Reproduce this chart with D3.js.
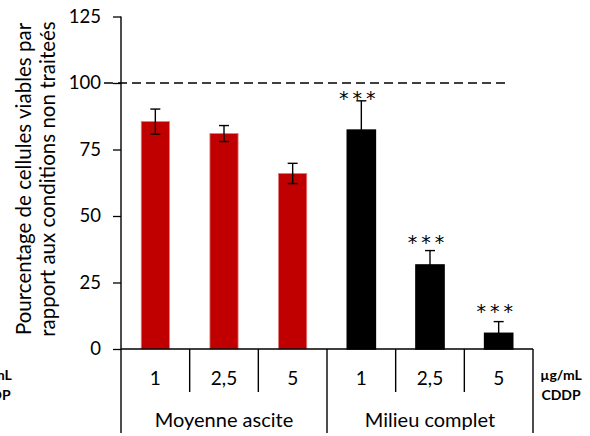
<!DOCTYPE html>
<html>
<head>
<meta charset="utf-8">
<script src="https://cdn.jsdelivr.net/npm/d3@7"></script>
<style>
  html, body { margin: 0; padding: 0; background: #fff; }
  svg { display: block; }
  text { font-family: Lato, "Open Sans", sans-serif; fill: #000; }
  text.sig { font-family: "DejaVu Sans", sans-serif; }
</style>
</head>
<body>
<svg id="chart" width="590" height="436"></svg>
<script>
// ---- data ----
const doses = ["1", "2,5", "5", "1", "2,5", "5"];
const groups = ["Moyenne ascite", "Milieu complet"];
const groupOfBar = [0, 0, 0, 1, 1, 1];
const viability = [85.5, 81.0, 66.0, 82.3, 31.6, 5.9];
const errorSD = [4.7, 3.0, 3.8, 11.0, 5.4, 4.4];
const significance = ["", "", "", "***", "***", "***"];
const significanceLevel = [null, null, null, 96, 42, 16];
const yTicks = [0, 25, 50, 75, 100, 125];
const referenceLevel = 100;
const groupColors = ["#C00000", "#000000"];
const yTitleLines = ["Pourcentage de cellules viables par", "rapport aux conditions non traiteés"];
const unitLines = ["µg/mL", "CDDP"];

// ---- layout ----
const svg = d3.select("#chart");
const pLeft = 121, pRight = 533, pTop = 16.5, pBottom = 349;

const y = d3.scaleLinear().domain([0, 125]).range([pBottom, pTop]);
const x = d3.scaleBand().domain(d3.range(doses.length)).range([pLeft, pRight])
  .paddingInner(0.59).paddingOuter(0.295);
const step = x.step();
const cx = i => x(i) + x.bandwidth() / 2;

// reference dashed line
svg.append("line")
  .attr("x1", 104).attr("x2", 505)
  .attr("y1", y(referenceLevel)).attr("y2", y(referenceLevel))
  .attr("stroke", "#000").attr("stroke-width", 1.3)
  .attr("stroke-dasharray", "9,5");

// bars
svg.selectAll("rect.bar").data(viability).enter().append("rect")
  .attr("class", "bar")
  .attr("x", (d, i) => x(i))
  .attr("width", x.bandwidth())
  .attr("y", d => y(d))
  .attr("height", d => pBottom - y(d))
  .attr("fill", (d, i) => groupColors[groupOfBar[i]])
  .attr("stroke", (d, i) => groupOfBar[i] === 0 ? "#e07a7a" : "#000")
  .attr("stroke-width", (d, i) => groupOfBar[i] === 0 ? 0.8 : 1.5);

// error bars
const eb = svg.selectAll("g.err").data(viability).enter().append("g").attr("class", "err");
const capW = 5;
eb.append("line")
  .attr("x1", (d, i) => cx(i)).attr("x2", (d, i) => cx(i))
  .attr("y1", (d, i) => y(d + errorSD[i])).attr("y2", (d, i) => y(d - errorSD[i]))
  .attr("stroke", "#000").attr("stroke-width", 1.4);
eb.append("line")
  .attr("x1", (d, i) => cx(i) - capW).attr("x2", (d, i) => cx(i) + capW)
  .attr("y1", (d, i) => y(d + errorSD[i])).attr("y2", (d, i) => y(d + errorSD[i]))
  .attr("stroke", "#000").attr("stroke-width", 1.4);
eb.append("line")
  .attr("x1", (d, i) => cx(i) - capW).attr("x2", (d, i) => cx(i) + capW)
  .attr("y1", (d, i) => y(d - errorSD[i])).attr("y2", (d, i) => y(d - errorSD[i]))
  .attr("stroke", "#000").attr("stroke-width", 1.4);

// significance stars
significance.forEach((s, i) => {
  if (!s) return;
  svg.append("text")
    .attr("class", "sig")
    .attr("x", cx(i) - 2)
    .attr("y", y(significanceLevel[i]) + 11.5)
    .attr("text-anchor", "middle")
    .style("font-size", "19px")
    .style("letter-spacing", "4px")
    .text(s);
});

// y axis
const yAxis = svg.append("g").attr("transform", `translate(${pLeft},0)`)
  .call(d3.axisLeft(y).tickValues(yTicks).tickSize(8).tickPadding(12).tickFormat(d3.format("d")));
yAxis.select(".domain").remove();
yAxis.selectAll(".tick line").attr("stroke", "#000").attr("stroke-width", 1.3);
yAxis.selectAll(".tick text").style("font-size", "18.5px").attr("fill", "#000");

// y axis line (continues down as group separator)
svg.append("line").attr("x1", pLeft).attr("x2", pLeft).attr("y1", pTop).attr("y2", 433)
  .attr("stroke", "#000").attr("stroke-width", 1.4);

// x axis line
svg.append("line").attr("x1", pLeft).attr("x2", pRight).attr("y1", pBottom).attr("y2", pBottom)
  .attr("stroke", "#000").attr("stroke-width", 1.4);

// category separators
d3.range(1, doses.length + 1).forEach(k => {
  const xs = pLeft + k * step;
  const isGroupEdge = (k === doses.length) || (groupOfBar[k] !== groupOfBar[k - 1]);
  svg.append("line").attr("x1", xs).attr("x2", xs).attr("y1", pBottom)
    .attr("y2", isGroupEdge ? 433 : 392)
    .attr("stroke", "#000").attr("stroke-width", 1.4);
});

// dose labels
svg.selectAll("text.dose").data(doses).enter().append("text")
  .attr("class", "dose")
  .attr("x", (d, i) => cx(i))
  .attr("y", 385)
  .attr("text-anchor", "middle")
  .style("font-size", "19px")
  .text(d => d);

// group labels
groups.forEach((g, gi) => {
  const idx = d3.range(doses.length).filter(i => groupOfBar[i] === gi);
  const gx = (cx(idx[0]) + cx(idx[idx.length - 1])) / 2;
  svg.append("text").attr("x", gx).attr("y", 427)
    .attr("text-anchor", "middle").style("font-size", "20px").text(g);
});

// unit labels (right and clipped left copy)
[561, -9].forEach(ux => {
  unitLines.forEach((t, li) => {
    svg.append("text").attr("x", ux).attr("y", 380 + li * 20)
      .attr("text-anchor", "middle").style("font-size", "14px")
      .style("font-weight", "bold").text(t);
  });
});

// y title
yTitleLines.forEach((t, li) => {
  svg.append("text")
    .attr("transform", `translate(${31 + li * 24},179) rotate(-90)`)
    .attr("text-anchor", "middle")
    .style("font-size", "20.5px")
    .text(t);
});
</script>
</body>
</html>
